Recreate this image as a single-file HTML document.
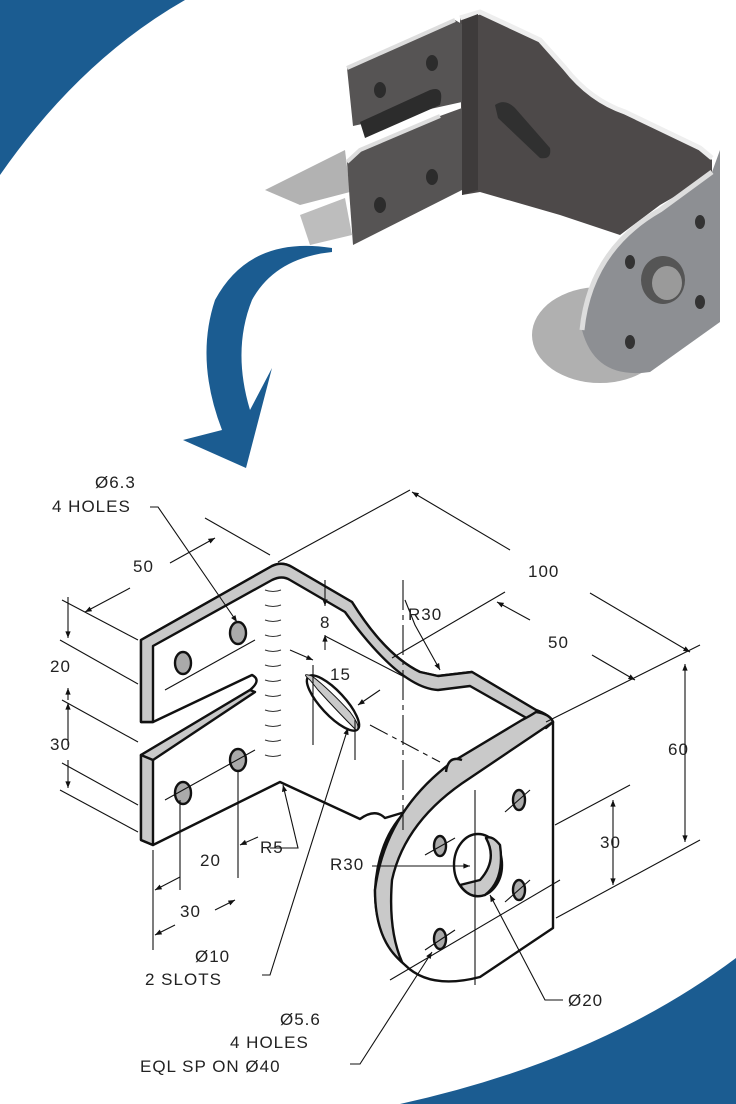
<!DOCTYPE html>
<html><head><meta charset="utf-8"><style>
html,body{margin:0;padding:0;background:#fff}
svg{display:block}
text{font-family:"Liberation Sans",sans-serif;font-size:17px;fill:#222;letter-spacing:1px}
</style></head><body>
<svg width="736" height="1104" viewBox="0 0 736 1104" xmlns="http://www.w3.org/2000/svg">
<defs>
<marker id="a" viewBox="0 0 10 10" refX="10" refY="5" markerWidth="9" markerHeight="6" orient="auto-start-reverse"><path d="M0,1 L10,5 L0,9 z" fill="#111"/></marker>
</defs>
<path d="M0,0 L185,0 Q80,60 0,175 Z" fill="#1b5c91"/>
<path d="M736,958 L736,1104 L400,1104 Q600,1060 736,958 Z" fill="#1b5c91"/>
<path d="M332,248 Q250,235 215,300 Q195,360 222,430 L183,440 L246,468 L272,368 L250,410 Q232,350 252,300 Q275,258 332,252 Z" fill="#1b5c91"/>

<g>
<path d="M265,190 L345,150 L350,192 L300,205 Z" fill="#b2b2b2"/>
<path d="M300,215 L345,198 L352,235 L310,245 Z" fill="#bdbdbd"/>
<ellipse cx="600" cy="335" rx="68" ry="48" fill="#b0b0b0"/>
<path d="M460,18 L480,12 L540,40 L565,68 Q590,100 625,112 L700,148 L712,160 L712,175 L660,205 L620,235 L560,215 L480,192 L462,195 Z" fill="#4d4949"/>
<path d="M460,18 L480,12 L540,40 L565,68 Q590,100 625,112 L700,148 L712,158" fill="none" stroke="#eee" stroke-width="5"/>
<path d="M347,68 L455,20 L462,24 L462,102 L353,126 Z" fill="#565454"/>
<path d="M347,68 L455,20" stroke="#ddd" stroke-width="4"/>
<path d="M347,162 L360,150 L440,116 L462,108 L462,190 L353,245 Z" fill="#565454"/>
<path d="M347,162 L360,150 L440,116" stroke="#ddd" stroke-width="4" fill="none"/>
<path d="M462,20 L478,14 L478,190 L462,195 Z" fill="#3e3b3b"/>
<path d="M720,150 L720,322 L650,372 Q595,380 582,330 Q590,250 660,210 L712,172 Z" fill="#8d8f93"/>
<path d="M582,330 Q590,250 660,210 L712,172" fill="none" stroke="#ddd" stroke-width="5"/>
<ellipse cx="663" cy="280" rx="22" ry="24" fill="#555"/>
<ellipse cx="667" cy="283" rx="15" ry="17" fill="#9a9a9a"/>
<path d="M495,105 Q505,98 515,108 L550,148 Q552,160 540,158 L498,118 Z" fill="#303030"/>
<ellipse cx="380" cy="90" rx="6" ry="8" fill="#2c2c2c"/><ellipse cx="432" cy="63" rx="6" ry="8" fill="#2c2c2c"/>
<ellipse cx="380" cy="205" rx="6" ry="8" fill="#2c2c2c"/><ellipse cx="432" cy="177" rx="6" ry="8" fill="#2c2c2c"/>
<path d="M360,122 L430,90 Q445,85 440,105 L365,138 Z" fill="#2c2c2c"/>
<ellipse cx="630" cy="262" rx="5" ry="7" fill="#333"/><ellipse cx="700" cy="222" rx="5" ry="7" fill="#333"/>
<ellipse cx="700" cy="302" rx="5" ry="7" fill="#333"/><ellipse cx="630" cy="342" rx="5" ry="7" fill="#333"/>
</g>

<g stroke="#111" stroke-width="2.4" stroke-linejoin="round">
<path d="M141,640 L272,566 Q282,561 292,567 L352,602 Q385,655 420,672 L438,676 L472,672 L536,710 Q550,715 553,722 L553,928 L480,977 Q430,990 405,965 Q375,940 375,890 Q378,840 405,812 L385,818 Q375,808 360,819 L280,782 L153,845 L141,840 L141,755 L250,690 Q262,680 252,675 L153,722 L141,722 Z" fill="#fff"/>
<path d="M141,640 L272,566 Q282,561 292,567 L352,602 Q385,655 420,672 L438,676 L472,672 L536,710 Q550,715 553,722 L546,728 Q540,722 530,720 L470,686 L438,690 Q400,688 345,612 L290,580 Q282,575 272,580 L153,646 L153,722 L141,722 Z" fill="#c9c9c9"/>
<path d="M536,712 Q530,716 522,720 L452,762 Q385,812 375,890 Q375,940 402,962 Q388,930 392,880 Q405,820 470,778 L553,722 Q550,714 536,712 Z" fill="#c9c9c9"/>
<path d="M141,755 L153,755 L153,845 L141,840 Z" fill="#c9c9c9"/>
<path d="M141,755 L250,690 L255,692 L153,760 Z" fill="#c9c9c9"/>
<ellipse cx="333" cy="703" rx="36" ry="12" transform="rotate(47 333 703)" fill="#fff"/>
<path d="M310,680 Q300,672 312,676 Q330,690 350,712 Q362,728 356,730 Q338,712 318,690 Z" fill="#c9c9c9" stroke-width="1"/>
<ellipse cx="183" cy="663" rx="8" ry="11" fill="#aaa"/><ellipse cx="238" cy="633" rx="8" ry="11" fill="#aaa"/>
<ellipse cx="183" cy="793" rx="8" ry="11" fill="#aaa"/><ellipse cx="238" cy="760" rx="8" ry="11" fill="#aaa"/>
<ellipse cx="478" cy="865" rx="24" ry="31" fill="#fff"/>
<path d="M460,885 Q470,900 485,895 Q505,880 500,845 Q492,835 486,838 Q498,860 480,880 Z" fill="#c9c9c9"/>
<ellipse cx="440" cy="846" rx="6" ry="10" fill="#aaa"/><ellipse cx="519" cy="800" rx="6" ry="10" fill="#aaa"/>
<ellipse cx="519" cy="890" rx="6" ry="10" fill="#aaa"/><ellipse cx="440" cy="939" rx="6" ry="10" fill="#aaa"/>
<path d="M446,772 Q448,755 462,760" fill="#c9c9c9"/>
</g>
<g stroke="#333" stroke-width="1" fill="none">
<path d="M265,590 q8,3 16,0 M265,605 q8,3 16,0 M265,620 q8,3 16,0 M265,635 q8,3 16,0 M265,650 q8,3 16,0 M265,665 q8,3 16,0 M265,680 q8,3 16,0 M265,695 q8,3 16,0 M265,710 q8,3 16,0 M265,725 q8,3 16,0 M265,740 q8,3 16,0 M265,755 q8,3 16,0"/>
</g>

<g fill="none" stroke="#111" stroke-width="1.1">
<line x1="62" y1="600" x2="138" y2="640"/><line x1="62" y1="700" x2="138" y2="742"/>
<line x1="62" y1="763" x2="138" y2="805"/><line x1="60" y1="790" x2="138" y2="832"/>
<line x1="60" y1="640" x2="138" y2="684"/>
<line x1="68" y1="597" x2="68" y2="638" marker-end="url(#a)"/>
<line x1="68" y1="700" x2="68" y2="688" marker-end="url(#a)"/>
<line x1="68" y1="745" x2="68" y2="703" marker-end="url(#a)"/>
<line x1="68" y1="760" x2="68" y2="788" marker-end="url(#a)"/>
<line x1="85" y1="612" x2="130" y2="588" marker-start="url(#a)"/>
<line x1="170" y1="563" x2="215" y2="538" marker-end="url(#a)"/>
<line x1="205" y1="518" x2="270" y2="555"/>
<line x1="278" y1="562" x2="410" y2="490"/>
<line x1="412" y1="492" x2="510" y2="550" marker-start="url(#a)"/>
<line x1="590" y1="593" x2="690" y2="652" marker-end="url(#a)"/>
<line x1="505" y1="592" x2="392" y2="658"/>
<line x1="497" y1="602" x2="530" y2="620" marker-start="url(#a)"/>
<line x1="592" y1="655" x2="635" y2="680" marker-end="url(#a)"/>
<line x1="546" y1="722" x2="700" y2="645"/>
<line x1="685" y1="664" x2="685" y2="842" marker-start="url(#a)" marker-end="url(#a)"/>
<line x1="556" y1="918" x2="700" y2="840"/>
<line x1="555" y1="825" x2="630" y2="785"/>
<line x1="613" y1="800" x2="613" y2="885" marker-start="url(#a)" marker-end="url(#a)"/>
<line x1="325" y1="580" x2="325" y2="606" marker-end="url(#a)"/>
<line x1="325" y1="650" x2="325" y2="635" marker-end="url(#a)"/>
<line x1="325" y1="636" x2="418" y2="684"/>
<line x1="313" y1="665" x2="313" y2="745"/><line x1="355" y1="720" x2="355" y2="760"/>
<line x1="290" y1="650" x2="313" y2="660" marker-end="url(#a)"/>
<line x1="380" y1="690" x2="358" y2="705" marker-end="url(#a)"/>
<line x1="153" y1="850" x2="153" y2="950"/><line x1="180" y1="800" x2="180" y2="890"/><line x1="238" y1="770" x2="238" y2="878"/>
<line x1="155" y1="890" x2="180" y2="877" marker-start="url(#a)"/>
<line x1="155" y1="935" x2="175" y2="925" marker-start="url(#a)"/>
<line x1="215" y1="910" x2="235" y2="900" marker-end="url(#a)"/>
<line x1="240" y1="845" x2="258" y2="837" marker-start="url(#a)"/>
<polyline points="150,507 158,507 237,622" marker-end="url(#a)"/>
<polyline points="262,975 270,975 348,728" marker-end="url(#a)"/>
<polyline points="270,848 298,848 283,785" marker-end="url(#a)"/>
<polyline points="405,600 415,625 440,670" marker-end="url(#a)"/>
<line x1="372" y1="866" x2="470" y2="866" marker-end="url(#a)"/>
<polyline points="563,1000 545,1000 490,895" marker-end="url(#a)"/>
<polyline points="350,1064 360,1064 432,952" marker-end="url(#a)"/>
<line x1="403" y1="580" x2="403" y2="830" stroke-dasharray="30,5,5,5"/>
<line x1="475" y1="790" x2="475" y2="985"/>
<line x1="390" y1="980" x2="560" y2="880"/>
<line x1="370" y1="725" x2="440" y2="762" stroke-dasharray="20,5,5,5"/>
<line x1="165" y1="690" x2="255" y2="640"/><line x1="165" y1="800" x2="255" y2="750"/>
<line x1="425" y1="855" x2="455" y2="838"/><line x1="505" y1="812" x2="530" y2="790"/>
<line x1="505" y1="902" x2="530" y2="880"/><line x1="425" y1="950" x2="455" y2="930"/>
</g>
<text x="95" y="488">Ø6.3</text>
<text x="52" y="512">4 HOLES</text>
<text x="133" y="572">50</text>
<text x="528" y="577">100</text>
<text x="408" y="620">R30</text>
<text x="548" y="648">50</text>
<text x="320" y="628" font-size="14">8</text>
<text x="330" y="680" font-size="14">15</text>
<text x="50" y="672">20</text>
<text x="50" y="750">30</text>
<text x="668" y="755">60</text>
<text x="600" y="848">30</text>
<text x="200" y="866">20</text>
<text x="260" y="853">R5</text>
<text x="180" y="917">30</text>
<text x="330" y="870">R30</text>
<text x="195" y="962">Ø10</text>
<text x="145" y="985">2 SLOTS</text>
<text x="568" y="1006">Ø20</text>
<text x="280" y="1025">Ø5.6</text>
<text x="230" y="1048">4 HOLES</text>
<text x="140" y="1072">EQL SP ON Ø40</text>
</svg>
</body></html>
